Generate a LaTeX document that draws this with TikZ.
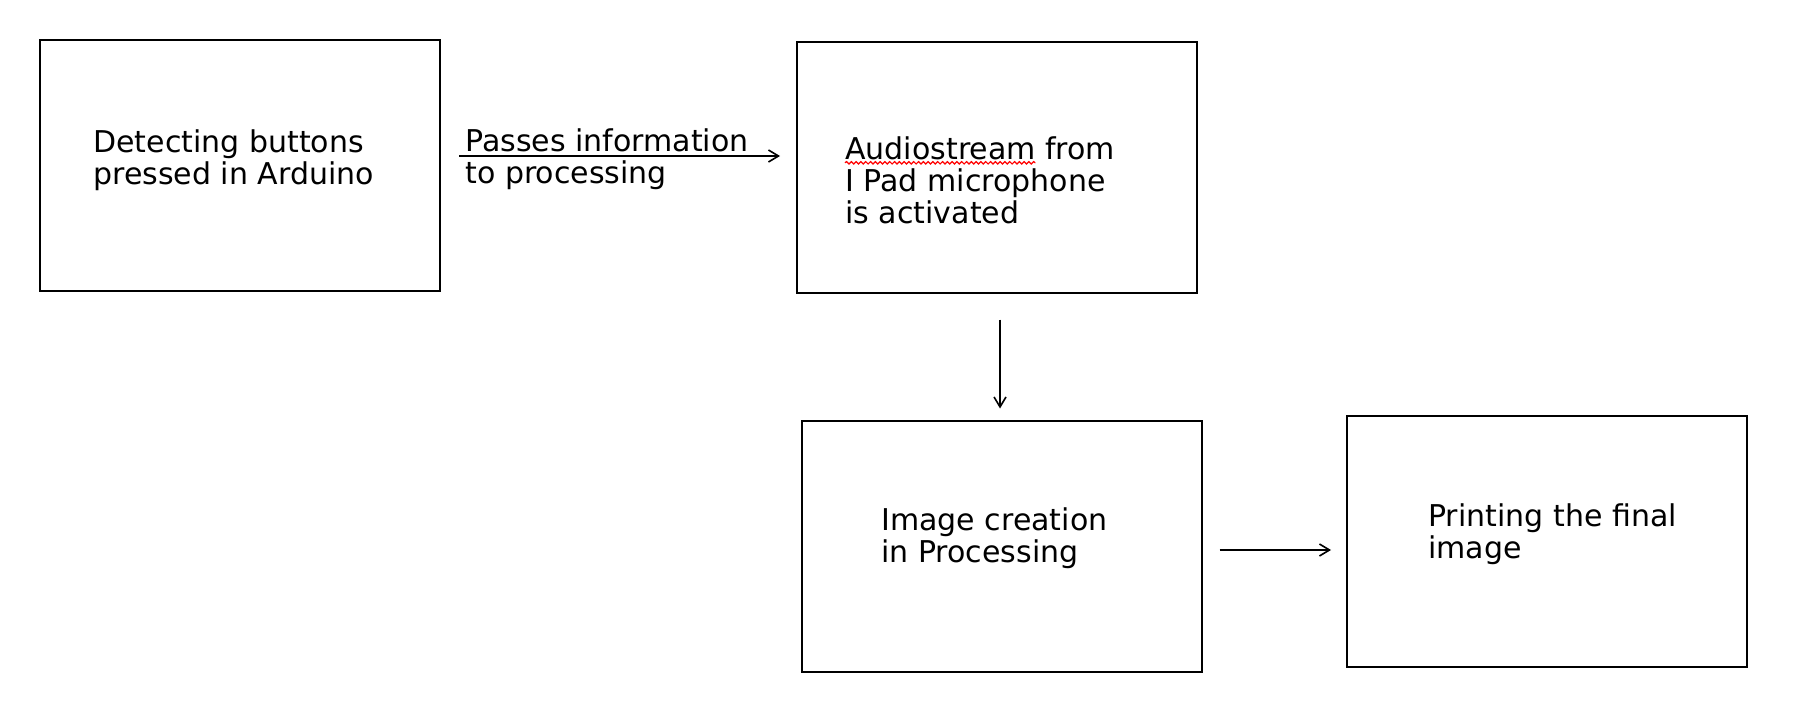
\documentclass[tikz,border=0pt]{standalone}
\usepackage{fontspec}
\setmainfont{DejaVu Sans}
\usetikzlibrary{arrows.meta,decorations.pathmorphing}
\newlength\spellwd

\begin{document}
\settowidth\spellwd{\fontsize{15}{16}\selectfont Audiostream}
\begin{tikzpicture}[x=0.5pt,y=-0.5pt,
stage/.style = {draw, line width=1pt, minimum width=200pt, minimum height=125.5pt, inner sep=0pt},
caption/.style = {anchor=base west, align=left, inner sep=0pt, font=\fontsize{15}{16}\selectfont},
flow/.style = {line width=0.8pt, -{Straight Barb[length=5pt,width=6pt]}},
spell/.style = {draw=red, line width=0.6pt, decorate, decoration={snake, amplitude=0.6pt, segment length=2.4pt}}]
\useasboundingbox (0,0) rectangle (1800,728);
\node[stage] (arduino) at (240,165.2) {};
\node[stage] (mic) at (997,167) {};
\node[stage] (image) at (1001.5,546) {};
\node[stage] (printer) at (1547,541.8) {};
% captions sit on the baseline of their last line
\coordinate (mic line) at (845,159);
\node[caption] (arduino text) at (93,184) {Detecting buttons\\pressed in Arduino};
\node[caption] (pass text) at (465,183) {Passes information\\to processing};
\node[caption] (mic text) at (845,223) {Audiostream from\\I Pad microphone\\is activated};
\node[caption] (image text) at (881,562) {Image creation\\in Processing};
\node[caption] (printer text) at (1428,558) {Printing the final\\image};
\coordinate (spell end) at ([xshift=\spellwd]mic line);
\draw[spell] ([yshift=-1.9pt]mic line) -- ([yshift=-1.9pt]spell end);
\coordinate (pass start) at ([xshift=9pt,yshift=4.6pt]arduino.east);
\draw[flow, shorten >=8pt] (pass start) -- (pass start -| mic.west);
\coordinate (down start) at ([xshift=1.5pt,yshift=-13pt]mic.south);
\draw[flow, shorten >=5.5pt] (down start) -- (down start |- image.north);
\coordinate (print start) at ([xshift=8.5pt,yshift=-2pt]image.east);
\draw[flow, shorten >=7.5pt] (print start) -- (print start -| printer.west);
\end{tikzpicture}
\end{document}
